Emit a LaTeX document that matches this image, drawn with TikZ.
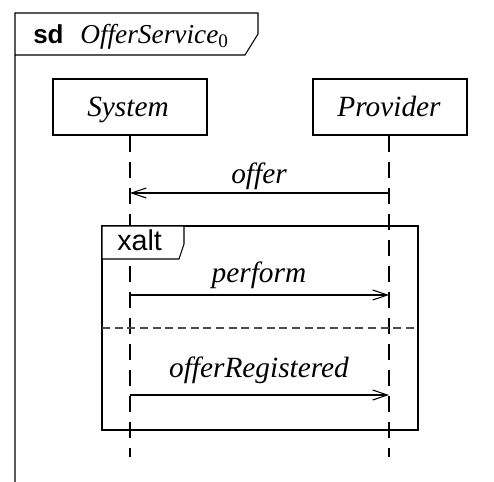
\documentclass[tikz,border=0pt]{standalone}
\usepackage{fontspec}
\setmainfont{Liberation Serif}
\setsansfont{Liberation Sans}
\usetikzlibrary{arrows.meta}

\tikzset{
  frameline/.style={draw=black, line width=0.8pt},
  lifebox/.style={draw=black, line width=0.8pt, minimum width=115.5pt, minimum height=42pt, inner sep=0pt},
  lifeline/.style={draw=black, line width=0.8pt, dash pattern=on 12pt off 7.5pt},
  separator/.style={draw=black!70, line width=0.8pt, dash pattern=on 6pt off 3.5pt},
  msgline/.style={draw=black, line width=0.8pt, -{Straight Barb[length=11pt,width=7.5pt,line width=0.8pt]}},
  msgtext/.style={anchor=base, inner sep=0pt, font=\fontsize{22}{25}\selectfont\itshape},
  kwtext/.style={anchor=base west, inner sep=0pt, font=\fontsize{21.5}{24}\selectfont\sffamily},
}

\begin{document}
\begin{tikzpicture}[x=0.75pt, y=-0.75pt]
  \useasboundingbox (0,0) rectangle (494,482);

  % diagram frame with its name tab
  \draw[frameline] (15,500) -- (15,13) -- (258,13) -- (258,34) -- (245,55) -- (15,55);
  \node[anchor=base west, inner sep=0pt, font=\fontsize{19.5}{22}\selectfont\sffamily\bfseries] (sdkw) at (33,43) {sd};
  \node[anchor=base west, inner sep=0pt, font=\fontsize{20.5}{24}\selectfont\itshape] (sdname) at (80,43) {OfferService\textsubscript{\upshape 0}};

  % lifeline heads
  \node[lifebox] (sys) at (130,107) {};
  \node[lifebox] (prv) at (390,107) {};
  \node[msgtext] (systxt) at (128,116) {System};
  \node[msgtext] (prvtxt) at (389,116) {Provider};

  % lifeline ends and message points
  \coordinate (sysend) at (130,457);
  \coordinate (prvend) at (389,457);
  \coordinate (sysA) at (130,193);
  \coordinate (prvA) at (389,193);
  \coordinate (sysB) at (130,295);
  \coordinate (prvB) at (389,295);
  \coordinate (sysC) at (130,395);
  \coordinate (prvC) at (389,395);

  \draw[lifeline] (sys.south) -- (sysend);
  \draw[lifeline] ([xshift=-0.75pt]prv.south) -- (prvend);

  % offer
  \draw[msgline] (prvA) -- (sysA);
  \node[msgtext] (offertxt) at (259,183) {offer};

  % xalt combined fragment; the name tab is opaque over the lifeline
  \draw[frameline] (102,226) rectangle (418,430);
  \filldraw[frameline, fill=white] (102,226) -- (184,226) -- (184,244) -- (179,259) -- (102,259) -- cycle;
  \node[kwtext] (xaltkw) at (117,250) {xalt};
  \draw[separator] (102,328) -- (418,328);

  % perform
  \draw[msgline] (sysB) -- (prvB);
  \node[msgtext] (performtxt) at (259,282) {perform};

  % offerRegistered
  \draw[msgline] (sysC) -- (prvC);
  \node[msgtext] (regtxt) at (259,377) {offerRegistered};
\end{tikzpicture}
\end{document}
